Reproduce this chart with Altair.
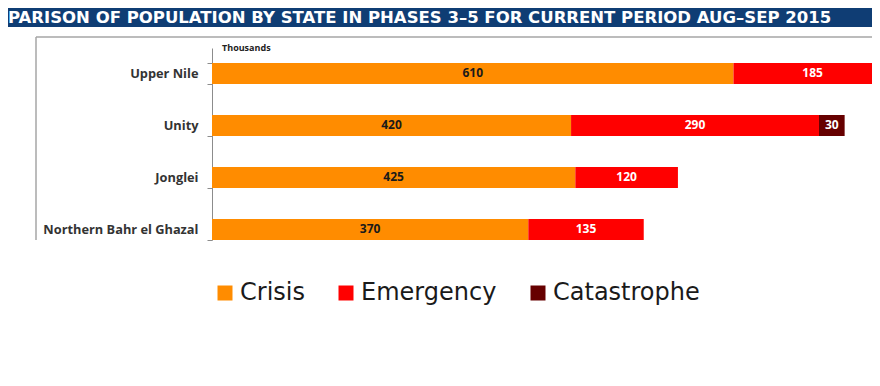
import altair as alt
import pandas as pd

# ---- data ----
states = ["Upper Nile", "Unity", "Jonglei", "Northern Bahr el Ghazal"]
phases = ["Crisis", "Emergency", "Catastrophe"]
crisis = [610, 420, 425, 370]
emergency = [185, 290, 120, 135]
catastrophe = [0, 30, 0, 0]
phase_colors = ["#FF8C00", "#FF0000", "#660000"]
title_text = "PARISON OF POPULATION BY STATE IN PHASES 3\u20135 FOR CURRENT PERIOD AUG\u2013SEP 2015"
unit_text = "Thousands"
x_max = 772

rows = []
for i, s in enumerate(states):
    for j, vals in enumerate([crisis, emergency, catastrophe]):
        if vals[i] > 0:
            rows.append({"state": s, "phase": phases[j], "value": vals[i], "order": j})
df = pd.DataFrame(rows)

W, H = 660, 192

base = alt.Chart(df).transform_stack(
    stack="value", groupby=["state"], as_=["x0", "x1"], sort=[alt.SortField("order")]
).transform_calculate(mid="(datum.x0 + datum.x1) / 2")

yscale = alt.Scale(paddingInner=0.596, paddingOuter=0.144, align=1)
xscale = alt.Scale(domain=[0, x_max], nice=False, zero=True)

y_enc = alt.Y(
    "state:N", sort=states, title=None, scale=yscale,
    axis=alt.Axis(labelFont="Open Sans", labelFontWeight="bold", labelFontSize=12.8,
                  labelColor="#333333", labelPadding=9, tickBand="extent", tickSize=5,
                  tickColor="#8c8c8c", domainColor="#8c8c8c", grid=False, labelLimit=300),
)

bars = base.mark_bar(clip=True).encode(
    y=y_enc,
    x=alt.X("x0:Q", scale=xscale, axis=None),
    x2="x1:Q",
    color=alt.Color(
        "phase:N", scale=alt.Scale(domain=phases, range=phase_colors),
        legend=alt.Legend(title=None, orient="none", legendX=1, legendY=233, padding=0,
                          direction="horizontal", symbolType="square", symbolSize=225,
                          symbolStrokeWidth=0, labelFont="DejaVu Sans", labelFontSize=24,
                          labelColor="#1a1a1a", labelOffset=3, columnPadding=29),
    ),
)

lab_dark = base.transform_filter(alt.datum.phase == "Crisis").mark_text(
    font="Open Sans", fontWeight="bold", fontSize=12, baseline="middle", color="#1a1a1a", clip=True
).encode(y=alt.Y("state:N", sort=states), x=alt.X("mid:Q", scale=xscale), text="value:Q")

lab_light = base.transform_filter(alt.datum.phase != "Crisis").mark_text(
    font="Open Sans", fontWeight="bold", fontSize=12, baseline="middle", color="#ffffff", clip=True
).encode(y=alt.Y("state:N", sort=states), x=alt.X("mid:Q", scale=xscale), text="value:Q")

tdf = pd.DataFrame({"t": [title_text], "u": [unit_text]})
title_bar = alt.Chart(tdf).mark_rect(color="#0f3d74").encode(
    x=alt.value(-204), x2=alt.value(W), y=alt.value(-40), y2=alt.value(-21)
)
title_txt = alt.Chart(tdf).mark_text(
    align="left", baseline="middle", font="DejaVu Sans", fontWeight="bold", fontSize=16.5, color="#ffffff"
).encode(x=alt.value(-204), y=alt.value(-30.5), text="t:N")

frame_top = alt.Chart(tdf).mark_rule(color="#a6a6a6", strokeWidth=1.5).encode(
    x=alt.value(-176), x2=alt.value(W), y=alt.value(-11)
)
frame_left = alt.Chart(tdf).mark_rule(color="#a6a6a6", strokeWidth=1.5).encode(
    x=alt.value(-176), y=alt.value(-11), y2=alt.value(H)
)
unit_txt = alt.Chart(tdf).mark_text(
    align="left", baseline="middle", font="Open Sans", fontWeight="bold", fontSize=9, color="#222222"
).encode(x=alt.value(10), y=alt.value(0), text="u:N")

chart = alt.layer(
    title_bar, title_txt, frame_top, frame_left, bars, lab_dark, lab_light, unit_txt
).properties(
    width=W, height=H,
    autosize=alt.AutoSizeParams(type="none"),
    padding={"left": 204, "top": 40, "right": 0, "bottom": 138},
).configure_view(stroke=None)

chart.save("out.html", embed_options={"renderer": "svg", "actions": False})
